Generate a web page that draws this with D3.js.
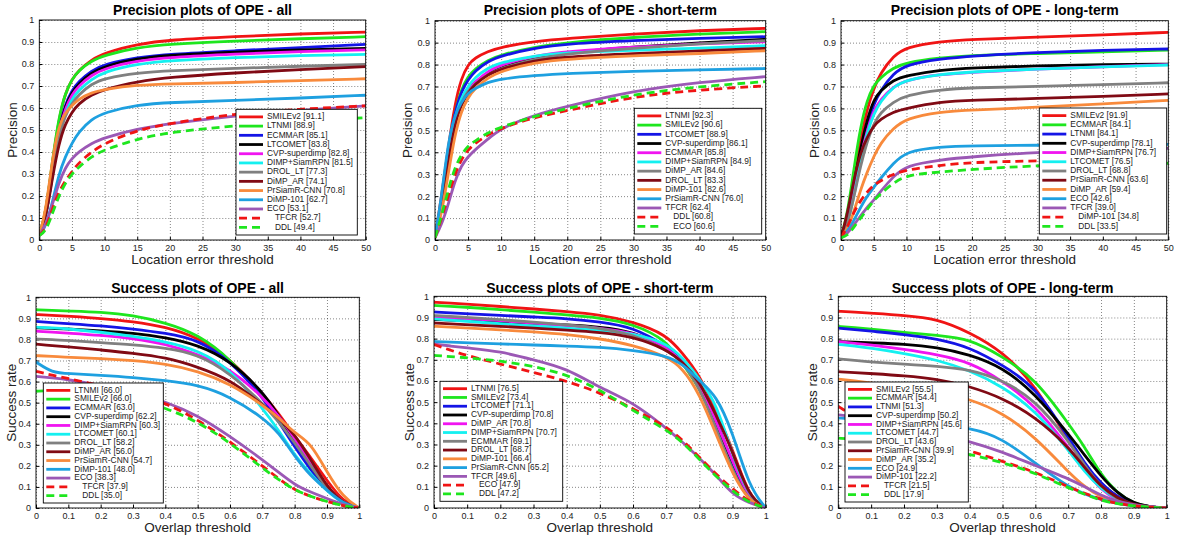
<!DOCTYPE html>
<html><head><meta charset="utf-8">
<script src="https://cdn.jsdelivr.net/npm/d3@7"></script>
<style>
html,body{margin:0;padding:0;background:#fff;}
svg{display:block;font-family:"Liberation Sans",Arial,sans-serif;}
</style></head>
<body><svg id="c" width="1179" height="538"></svg>
<script>
// ---------- data ----------
const precX = [0,1,2,3,4,5,6,8,10,15,20,30,40,50];
const succX = [0,0.05,0.1,0.2,0.3,0.4,0.5,0.6,0.7,0.75,0.8,0.85,0.9,0.95,1];
const precXTicks = [0,5,10,15,20,25,30,35,40,45,50];
const succXTicks = [0,0.1,0.2,0.3,0.4,0.5,0.6,0.7,0.8,0.9,1];
const yTicks = [0,0.1,0.2,0.3,0.4,0.5,0.6,0.7,0.8,0.9,1];
const titles = ["Precision plots of OPE - all","Precision plots of OPE - short-term","Precision plots of OPE - long-term",
  "Success plots of OPE - all","Success plots of OPE - short-term","Success plots of OPE - long-term"];
const seriesColors = ["#f01414","#1ee61e","#1414e6","#000000","#f014f0","#14f0f0","#808080","#800a14","#f88a3c","#1ea0e0","#9b58b5","#f01414","#1ee61e"];
const seriesDashed = [false,false,false,false,false,false,false,false,false,false,false,true,true];

const precAllNames = ["SMILEv2 [91.1]","LTNMI [88.9]","ECMMAR [85.1]","LTCOMET [83.8]","CVP-superdimp [82.8]","DIMP+SiamRPN [81.5]","DROL_LT [77.3]","DiMP_AR [74.1]","PrSiamR-CNN [70.8]","DiMP-101 [62.7]","ECO [53.1]","TFCR [52.7]","DDL [49.4]"];
const precAllValues = [
 [0.02,0.12,0.35,0.55,0.67,0.73,0.77,0.82,0.85,0.89,0.91,0.925,0.937,0.945],
 [0.02,0.12,0.36,0.56,0.67,0.73,0.77,0.815,0.84,0.875,0.89,0.905,0.915,0.924],
 [0.02,0.1,0.3,0.5,0.62,0.68,0.72,0.77,0.80,0.83,0.845,0.86,0.875,0.889],
 [0.02,0.1,0.3,0.5,0.61,0.67,0.71,0.76,0.79,0.825,0.84,0.855,0.865,0.871],
 [0.02,0.1,0.3,0.49,0.6,0.66,0.7,0.75,0.78,0.815,0.83,0.845,0.857,0.864],
 [0.02,0.1,0.29,0.47,0.58,0.64,0.68,0.73,0.765,0.8,0.815,0.83,0.838,0.844],
 [0.02,0.1,0.3,0.47,0.57,0.62,0.66,0.71,0.735,0.76,0.77,0.78,0.79,0.798],
 [0.02,0.1,0.28,0.44,0.53,0.58,0.62,0.66,0.685,0.72,0.74,0.76,0.775,0.788],
 [0.02,0.13,0.37,0.52,0.58,0.61,0.64,0.67,0.685,0.705,0.71,0.715,0.725,0.733],
 [0.02,0.06,0.17,0.3,0.38,0.44,0.49,0.55,0.58,0.615,0.625,0.635,0.645,0.658],
 [0.02,0.07,0.16,0.26,0.33,0.37,0.4,0.44,0.465,0.505,0.53,0.565,0.59,0.61],
 [0.02,0.05,0.14,0.22,0.27,0.31,0.35,0.40,0.44,0.5,0.53,0.575,0.595,0.61],
 [0.02,0.04,0.12,0.2,0.26,0.3,0.33,0.38,0.41,0.46,0.49,0.52,0.54,0.556]
];

const precShortNames = ["LTNMI [92.3]","SMILEv2 [90.6]","LTCOMET [88.9]","CVP-superdimp [86.1]","ECMMAR [85.8]","DIMP+SiamRPN [84.9]","DiMP_AR [84.6]","DROL_LT [83.3]","DiMP-101 [82.6]","PrSiamR-CNN [76.0]","TFCR [62.4]","DDL [60.8]","ECO [60.6]"];
const precShortValues = [
 [0.01,0.2,0.42,0.62,0.74,0.8,0.83,0.86,0.88,0.905,0.92,0.94,0.955,0.965],
 [0.01,0.17,0.4,0.58,0.69,0.745,0.78,0.82,0.845,0.88,0.9,0.925,0.94,0.95],
 [0.01,0.17,0.42,0.58,0.68,0.73,0.77,0.815,0.84,0.875,0.895,0.91,0.92,0.927],
 [0.01,0.15,0.38,0.54,0.63,0.68,0.72,0.76,0.785,0.835,0.855,0.88,0.9,0.915],
 [0.01,0.15,0.38,0.54,0.63,0.68,0.72,0.77,0.80,0.84,0.86,0.88,0.895,0.904],
 [0.01,0.16,0.4,0.56,0.65,0.7,0.74,0.785,0.81,0.84,0.855,0.865,0.875,0.886],
 [0.01,0.15,0.38,0.54,0.63,0.68,0.71,0.755,0.785,0.825,0.85,0.875,0.895,0.909],
 [0.01,0.14,0.36,0.53,0.62,0.67,0.71,0.755,0.78,0.82,0.835,0.85,0.862,0.874],
 [0.01,0.12,0.3,0.48,0.59,0.65,0.69,0.74,0.77,0.81,0.825,0.84,0.85,0.863],
 [0.01,0.2,0.45,0.57,0.63,0.67,0.69,0.72,0.735,0.75,0.76,0.77,0.775,0.782],
 [0.01,0.07,0.16,0.27,0.34,0.38,0.41,0.46,0.51,0.57,0.61,0.68,0.72,0.745],
 [0.01,0.1,0.2,0.3,0.37,0.41,0.44,0.48,0.51,0.56,0.59,0.655,0.685,0.703],
 [0.01,0.11,0.23,0.33,0.39,0.43,0.45,0.49,0.515,0.565,0.6,0.665,0.7,0.722]
];

const precLongNames = ["SMILEv2 [91.9]","ECMMAR [84.1]","LTNMI [84.1]","CVP-superdimp [78.1]","DIMP+SiamRPN [76.7]","LTCOMET [76.5]","DROL_LT [68.8]","PrSiamR-CNN [63.6]","DiMP_AR [59.4]","ECO [42.6]","TFCR [39.0]","DiMP-101 [34.8]","DDL [33.5]"];
const precLongValues = [
 [0.01,0.1,0.28,0.46,0.6,0.69,0.76,0.84,0.88,0.905,0.915,0.925,0.935,0.947],
 [0.01,0.12,0.33,0.52,0.64,0.705,0.74,0.785,0.81,0.83,0.843,0.85,0.858,0.866],
 [0.01,0.08,0.22,0.39,0.53,0.62,0.68,0.76,0.80,0.825,0.84,0.855,0.865,0.871],
 [0.01,0.1,0.26,0.42,0.55,0.64,0.68,0.73,0.75,0.775,0.785,0.795,0.8,0.802],
 [0.01,0.08,0.22,0.38,0.5,0.59,0.64,0.7,0.73,0.755,0.765,0.78,0.79,0.80],
 [0.01,0.07,0.2,0.36,0.49,0.575,0.63,0.7,0.73,0.755,0.767,0.78,0.79,0.798],
 [0.01,0.07,0.2,0.34,0.45,0.53,0.58,0.63,0.66,0.685,0.695,0.70,0.708,0.717],
 [0.01,0.12,0.28,0.4,0.47,0.52,0.55,0.585,0.6,0.63,0.638,0.645,0.655,0.666],
 [0.01,0.05,0.13,0.23,0.31,0.38,0.44,0.51,0.555,0.585,0.593,0.605,0.62,0.637],
 [0.01,0.04,0.09,0.15,0.2,0.24,0.28,0.35,0.405,0.425,0.43,0.432,0.434,0.436],
 [0.01,0.03,0.07,0.11,0.15,0.18,0.22,0.29,0.34,0.365,0.38,0.40,0.41,0.418],
 [0.01,0.06,0.13,0.18,0.22,0.25,0.27,0.3,0.32,0.34,0.355,0.36,0.37,0.377],
 [0.01,0.02,0.06,0.1,0.14,0.18,0.21,0.26,0.296,0.31,0.322,0.34,0.345,0.35]
];

const succAllNames = ["LTNMI [66.0]","SMILEv2 [66.0]","ECMMAR [63.0]","CVP-superdimp [62.2]","DIMP+SiamRPN [60.3]","LTCOMET [60.1]","DROL_LT [58.2]","DiMP_AR [56.0]","PrSiamR-CNN [54.7]","DiMP-101 [48.0]","ECO [38.3]","TFCR [37.9]","DDL [35.0]"];
const succAllValues = [
 [0.918,0.915,0.91,0.9,0.885,0.86,0.81,0.71,0.545,0.45,0.34,0.24,0.13,0.03,0],
 [0.941,0.938,0.935,0.93,0.915,0.88,0.825,0.71,0.53,0.43,0.33,0.2,0.1,0.02,0],
 [0.886,0.88,0.875,0.865,0.85,0.83,0.8,0.7,0.53,0.41,0.29,0.18,0.085,0.02,0],
 [0.855,0.852,0.85,0.84,0.83,0.81,0.775,0.7,0.555,0.44,0.32,0.2,0.09,0.02,0],
 [0.839,0.835,0.83,0.82,0.805,0.78,0.73,0.66,0.53,0.44,0.33,0.21,0.1,0.02,0],
 [0.858,0.855,0.85,0.835,0.815,0.79,0.75,0.66,0.475,0.37,0.25,0.16,0.08,0.02,0],
 [0.802,0.8,0.795,0.785,0.775,0.76,0.73,0.64,0.5,0.41,0.31,0.2,0.09,0.02,0],
 [0.778,0.77,0.765,0.75,0.735,0.715,0.67,0.61,0.49,0.43,0.35,0.23,0.1,0.02,0],
 [0.723,0.72,0.715,0.71,0.70,0.685,0.65,0.59,0.49,0.43,0.355,0.31,0.17,0.05,0],
 [0.693,0.642,0.638,0.63,0.62,0.605,0.585,0.53,0.43,0.36,0.245,0.15,0.085,0.02,0],
 [0.625,0.618,0.61,0.58,0.55,0.505,0.44,0.34,0.23,0.17,0.11,0.075,0.045,0.015,0],
 [0.649,0.63,0.615,0.58,0.545,0.5,0.42,0.315,0.2,0.14,0.085,0.055,0.03,0.01,0],
 [0.554,0.558,0.56,0.55,0.525,0.475,0.41,0.31,0.19,0.135,0.085,0.055,0.03,0.01,0]
];

const succShortNames = ["LTNMI [76.5]","SMILEv2 [73.4]","LTCOMET [71.1]","CVP-superdimp [70.8]","DiMP_AR [70.8]","DIMP+SiamRPN [70.7]","ECMMAR [69.1]","DROL_LT [68.7]","DiMP-101 [66.4]","PrSiamR-CNN [65.2]","TFCR [49.6]","ECO [47.9]","DDL [47.2]"];
const succShortValues = [
 [0.972,0.968,0.963,0.952,0.94,0.928,0.913,0.88,0.82,0.73,0.63,0.46,0.28,0.05,0],
 [0.957,0.953,0.948,0.937,0.925,0.912,0.898,0.87,0.795,0.68,0.57,0.4,0.19,0.04,0],
 [0.926,0.922,0.918,0.91,0.902,0.895,0.88,0.855,0.765,0.7,0.6,0.42,0.21,0.04,0],
 [0.89,0.888,0.885,0.88,0.872,0.865,0.855,0.835,0.756,0.7,0.61,0.39,0.22,0.04,0],
 [0.902,0.898,0.894,0.885,0.874,0.862,0.85,0.83,0.765,0.69,0.6,0.41,0.22,0.04,0],
 [0.893,0.888,0.882,0.87,0.86,0.85,0.84,0.825,0.78,0.71,0.61,0.5,0.25,0.05,0],
 [0.909,0.905,0.9,0.89,0.878,0.865,0.85,0.82,0.75,0.69,0.57,0.38,0.17,0.03,0],
 [0.874,0.87,0.866,0.858,0.85,0.84,0.83,0.81,0.75,0.69,0.6,0.44,0.27,0.05,0],
 [0.858,0.855,0.85,0.842,0.832,0.82,0.8,0.77,0.717,0.66,0.54,0.35,0.16,0.03,0],
 [0.787,0.783,0.78,0.775,0.77,0.765,0.76,0.745,0.72,0.68,0.6,0.535,0.36,0.1,0],
 [0.775,0.765,0.756,0.74,0.70,0.66,0.567,0.5,0.378,0.31,0.236,0.157,0.063,0.024,0],
 [0.772,0.745,0.72,0.68,0.64,0.6,0.545,0.47,0.385,0.32,0.24,0.16,0.09,0.03,0],
 [0.721,0.715,0.71,0.695,0.67,0.63,0.56,0.46,0.37,0.31,0.23,0.15,0.08,0.025,0]
];

const succLongNames = ["SMILEv2 [55.5]","ECMMAR [54.4]","LTNMI [51.3]","CVP-superdimp [50.2]","DIMP+SiamRPN [45.6]","LTCOMET [44.7]","DROL_LT [43.6]","PrSiamR-CNN [39.9]","DiMP_AR [35.2]","ECO [24.9]","DiMP-101 [22.2]","TFCR [21.5]","DDL [17.9]"];
const succLongValues = [
 [0.929,0.925,0.92,0.91,0.895,0.83,0.74,0.58,0.32,0.2,0.115,0.05,0.02,0.005,0],
 [0.858,0.852,0.845,0.83,0.815,0.8,0.715,0.61,0.40,0.29,0.155,0.07,0.02,0.005,0],
 [0.85,0.843,0.835,0.82,0.8,0.76,0.675,0.575,0.335,0.21,0.115,0.05,0.02,0.005,0],
 [0.786,0.783,0.78,0.775,0.76,0.725,0.665,0.54,0.35,0.25,0.15,0.07,0.022,0.005,0],
 [0.786,0.778,0.77,0.75,0.725,0.69,0.6,0.485,0.29,0.18,0.085,0.035,0.01,0.003,0],
 [0.773,0.765,0.755,0.73,0.70,0.65,0.575,0.46,0.275,0.17,0.09,0.04,0.01,0.003,0],
 [0.704,0.697,0.69,0.68,0.67,0.655,0.605,0.51,0.32,0.2,0.1,0.04,0.01,0.003,0],
 [0.644,0.64,0.635,0.625,0.61,0.575,0.52,0.43,0.29,0.19,0.1,0.045,0.015,0.004,0],
 [0.609,0.6,0.59,0.57,0.55,0.515,0.45,0.335,0.17,0.1,0.05,0.025,0.01,0.003,0],
 [0.425,0.42,0.415,0.40,0.39,0.38,0.33,0.21,0.1,0.065,0.04,0.02,0.01,0.003,0],
 [0.44,0.43,0.41,0.38,0.35,0.315,0.265,0.2,0.14,0.1,0.06,0.03,0.015,0.005,0],
 [0.48,0.43,0.40,0.36,0.32,0.27,0.22,0.17,0.10,0.07,0.04,0.02,0.01,0.003,0],
 [0.33,0.325,0.32,0.3,0.28,0.255,0.215,0.165,0.095,0.065,0.035,0.02,0.01,0.003,0]
];

// ---------- layout ----------
const panels = [
 {x:precX, xMax:50, xTicks:precXTicks, names:precAllNames, vals:precAllValues, box:[39.3,365.7,20,240], leg:[236,357.3,109.3,235], ylab:"Precision", xlab:"Location error threshold", ylx:13, tY:11, xlY:260},
 {x:precX, xMax:50, xTicks:precXTicks, names:precShortNames, vals:precShortValues, box:[435,765.7,20.7,240], leg:[634.3,761.7,108.3,234], ylab:"Precision", xlab:"Location error threshold", ylx:408, tY:11, xlY:260},
 {x:precX, xMax:50, xTicks:precXTicks, names:precLongNames, vals:precLongValues, box:[841,1168.3,20.7,240], leg:[1039.3,1166.7,108,234], ylab:"Precision", xlab:"Location error threshold", ylx:815, tY:11, xlY:260},
 {x:succX, xMax:1, xTicks:succXTicks, names:succAllNames, vals:succAllValues, box:[36,359.3,297.3,508], leg:[43.3,163.3,383,503], ylab:"Success rate", xlab:"Overlap threshold", ylx:12, tY:289, xlY:528},
 {x:succX, xMax:1, xTicks:succXTicks, names:succShortNames, vals:succShortValues, box:[434,765.7,296.3,508], leg:[440,562.7,381.3,501.3], ylab:"Success rate", xlab:"Overlap threshold", ylx:410, tY:289, xlY:528},
 {x:succX, xMax:1, xTicks:succXTicks, names:succLongNames, vals:succLongValues, box:[838.3,1166.7,296.3,508], leg:[845,968.3,382,502], ylab:"Success rate", xlab:"Overlap threshold", ylx:813, tY:289, xlY:528}
];

const svg = d3.select("#c");
const fmtY = d => d===0?"0":d===1?"1":d3.format(".1f")(d);
const fmtX = d => (d===0||d===1)?String(d):(Number.isInteger(d)?String(d):d3.format(".1f")(d));

panels.forEach((p,pi)=>{
  const [L,R,T,B] = p.box;
  const xs = d3.scaleLinear().domain([0,p.xMax]).range([L,R]);
  const ys = d3.scaleLinear().domain([0,1]).range([B,T]);
  const g = svg.append("g");
  g.append("rect").attr("x",L).attr("y",T).attr("width",R-L).attr("height",B-T).attr("fill","#fff");
  // grid
  const gx = g.append("g").attr("transform",`translate(0,${B})`)
    .call(d3.axisBottom(xs).tickValues(p.xTicks).tickSize(-(B-T)).tickFormat(""));
  gx.select(".domain").remove();
  gx.selectAll("line").attr("stroke","#000").attr("stroke-width",0.6).attr("stroke-dasharray","1,2").attr("opacity",0.8);
  const gy = g.append("g").attr("transform",`translate(${L},0)`)
    .call(d3.axisLeft(ys).tickValues(yTicks).tickSize(-(R-L)).tickFormat(""));
  gy.select(".domain").remove();
  gy.selectAll("line").attr("stroke","#000").attr("stroke-width",0.6).attr("stroke-dasharray","1,2").attr("opacity",0.8);
  // tick labels via axes
  const ax = g.append("g").attr("transform",`translate(0,${B})`)
    .call(d3.axisBottom(xs).tickValues(p.xTicks).tickSize(0).tickPadding(5).tickFormat(fmtX));
  ax.select(".domain").remove();
  ax.selectAll("text").attr("font-size",9).attr("fill","#222").attr("font-family","Liberation Sans, Arial, sans-serif");
  const ay = g.append("g").attr("transform",`translate(${L},0)`)
    .call(d3.axisLeft(ys).tickValues(yTicks).tickSize(0).tickPadding(5).tickFormat(fmtY));
  ay.select(".domain").remove();
  ay.selectAll("text").attr("font-size",9).attr("fill","#222").attr("font-family","Liberation Sans, Arial, sans-serif");
  // small inward ticks
  g.append("g").attr("transform",`translate(0,${B})`).call(d3.axisTop(xs).tickValues(p.xTicks).tickSize(3).tickFormat("")).select(".domain").remove();
  g.append("g").attr("transform",`translate(${L},0)`).call(d3.axisRight(ys).tickValues(yTicks).tickSize(3).tickFormat("")).select(".domain").remove();
  // curves
  const clipId = "clip"+pi;
  g.append("clipPath").attr("id",clipId).append("rect").attr("x",L).attr("y",T-2).attr("width",R-L).attr("height",B-T+2);
  const line = d3.line().x((d,i)=>xs(p.x[i])).y(d=>ys(d)).curve(d3.curveBasis);
  const cg = g.append("g").attr("clip-path",`url(#${clipId})`);
  p.vals.forEach((v,si)=>{
    cg.append("path").attr("d",line(v)).attr("fill","none")
      .attr("stroke",seriesColors[si]).attr("stroke-width",2.8)
      .attr("stroke-dasharray",seriesDashed[si]?"8,5":null)
      .attr("stroke-linejoin","round");
  });
  // box
  g.append("rect").attr("x",L).attr("y",T).attr("width",R-L).attr("height",B-T).attr("fill","none").attr("stroke","#000").attr("stroke-width",0.9);
  // title
  g.append("text").attr("x",(L+R)/2).attr("y",p.tY).attr("text-anchor","middle").attr("dominant-baseline","middle")
    .attr("font-size",14).attr("font-weight","bold").text(titles[pi]);
  // axis labels
  g.append("text").attr("x",(L+R)/2).attr("y",p.xlY).attr("text-anchor","middle").attr("dominant-baseline","middle")
    .attr("font-size",13.5).attr("fill","#222").text(p.xlab);
  g.append("text").attr("transform",`translate(${p.ylx},${(T+B)/2}) rotate(-90)`).attr("text-anchor","middle").attr("dominant-baseline","middle")
    .attr("font-size",13.5).attr("fill","#222").text(p.ylab);
  // legend
  const [lL,lR,lT,lB] = p.leg;
  const lg = g.append("g");
  lg.append("rect").attr("x",lL).attr("y",lT).attr("width",lR-lL).attr("height",lB-lT).attr("fill","#fff").attr("stroke","#000").attr("stroke-width",0.9);
  const n = p.names.length;
  const rowH = (lB-lT-6)/n;
  p.names.forEach((nm,si)=>{
    const cy = lT+3+rowH*(si+0.5);
    lg.append("line").attr("x1",lL+3).attr("x2",lL+27).attr("y1",cy).attr("y2",cy)
      .attr("stroke",seriesColors[si]).attr("stroke-width",2.8).attr("stroke-dasharray",seriesDashed[si]?"8,5":null);
    lg.append("text").attr("x",lL+(seriesDashed[si]?39:31)).attr("y",cy).attr("dominant-baseline","middle")
      .attr("font-size",8.4).attr("fill","#222").text(nm);
  });
});
</script>
</body></html>
